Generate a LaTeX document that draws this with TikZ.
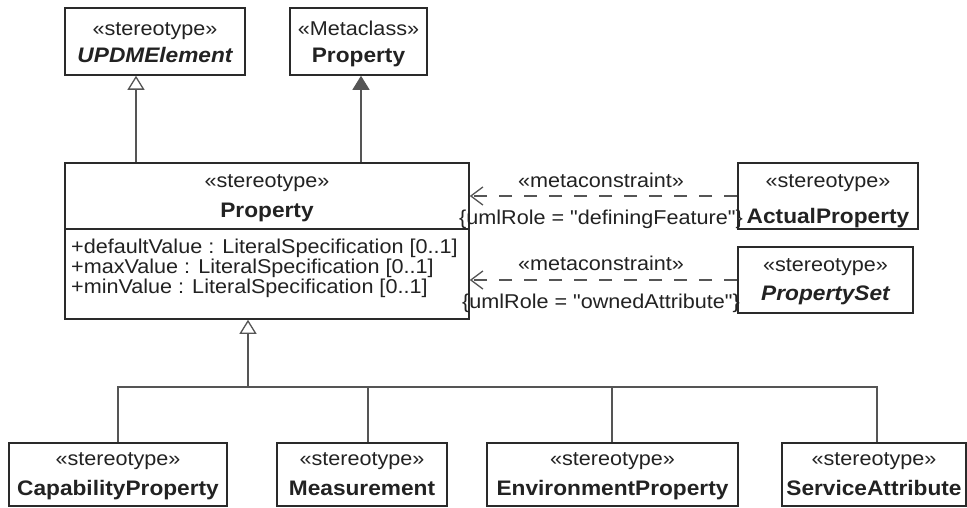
\documentclass[tikz,border=0pt]{standalone}
\usepackage{fontspec}
\newfontfamily\umlfont{Liberation Sans}[FakeStretch=1.08]
\usetikzlibrary{arrows.meta,calc}
\definecolor{edgecol}{HTML}{555555}
\definecolor{txtcol}{HTML}{222222}
\definecolor{boxcol}{HTML}{2A2A2A}
\begin{document}
\begin{tikzpicture}[x=1pt,y=-1pt,
  box/.style={draw=boxcol,line width=1.6pt,fill=white,inner sep=0pt},
  lbl/.style={inner sep=0pt,anchor=base,text=txtcol,font=\umlfont\fontsize{20}{24}\selectfont},
  namelbl/.style={lbl,font=\umlfont\bfseries\fontsize{21}{24}\selectfont},
  attr/.style={lbl,anchor=base west},
  conn/.style={draw=edgecol,line width=1.3pt},
  gen/.style={conn,-{Triangle[open,width=17pt,length=14pt,line width=1.3pt]}},
  ext/.style={conn,-{Triangle[width=17pt,length=14pt]},fill=edgecol},
  dep/.style={conn,dash pattern=on 13pt off 12pt,-{Straight Barb[length=12pt,width=18pt,line width=1.3pt]}}
]
\useasboundingbox (0,0) rectangle (967,508);
\fill[white] (0,0) rectangle (967,508);

% boxes
\node[box,minimum width=180pt,minimum height=67pt] (upd) at (155,41.5) {};
\node[box,minimum width=137pt,minimum height=67pt] (meta) at (358.5,41.5) {};
\node[box,minimum width=404pt,minimum height=156pt] (main) at (267,241) {};
\node[box,minimum width=180pt,minimum height=66pt] (ap) at (828,196) {};
\node[box,minimum width=175pt,minimum height=66pt] (ps) at (825.5,280) {};
\node[box,minimum width=218pt,minimum height=63pt] (cap) at (118,474.5) {};
\node[box,minimum width=170pt,minimum height=63pt] (meas) at (362,474.5) {};
\node[box,minimum width=251pt,minimum height=63pt] (env) at (612.5,474.5) {};
\node[box,minimum width=184pt,minimum height=63pt] (serv) at (874,474.5) {};

% divider of main
\coordinate (dv) at (0,229);
\draw[draw=boxcol,line width=1.6pt] (main.west |- dv) -- (main.east |- dv);

% texts
\node[lbl] (updS) at (155,36) {«stereotype»};
\node[namelbl] (updN) at (155,63) {\itshape UPDMElement};
\node[lbl] (metaS) at (358.5,36) {«Metaclass»};
\node[namelbl] (metaN) at (358.5,63) {Property};
\node[lbl] (mainS) at (267,187) {«stereotype»};
\node[namelbl] (mainN) at (267,218) {Property};
\node[attr] (a1) at (71,253) {+defaultValue : LiteralSpecification [0..1]};
\node[attr] (a2) at (71,273) {+maxValue : LiteralSpecification [0..1]};
\node[attr] (a3) at (71,293) {+minValue : LiteralSpecification [0..1]};
\node[lbl] (apS) at (828,188) {«stereotype»};
\node[namelbl] (apN) at (828,223) {ActualProperty};
\node[lbl] (psS) at (825.5,271) {«stereotype»};
\node[namelbl] (psN) at (825.5,300) {\itshape PropertySet};
\node[lbl] (capS) at (118,465) {«stereotype»};
\node[namelbl] (capN) at (118,495) {CapabilityProperty};
\node[lbl] (measS) at (362,465) {«stereotype»};
\node[namelbl] (measN) at (362,495) {Measurement};
\node[lbl] (envS) at (612.5,465) {«stereotype»};
\node[namelbl] (envN) at (612.5,495) {EnvironmentProperty};
\node[lbl] (servS) at (874,465) {«stereotype»};
\node[namelbl] (servN) at (874,495) {ServiceAttribute};

% top connectors
\coordinate (x1) at (136,0);
\coordinate (x2) at (361,0);
\draw[gen] (main.north -| x1) -- (upd.south -| x1);
\draw[ext] (main.north -| x2) -- (meta.south -| x2);

% metaconstraints
\draw[dep] (ap.west) -- (ap.west -| main.east);
\draw[dep] (ps.west) -- (ps.west -| main.east);
\node[lbl] (mc1) at (601,187) {«metaconstraint»};
\node[lbl] (r1) at (601,225) {\{umlRole = "definingFeature"\}};
\node[lbl] (mc2) at (601,270) {«metaconstraint»};
\node[lbl] (r2) at (601,308) {\{umlRole = "ownedAttribute"\}};

% bottom generalization tree
\coordinate (hy) at (0,387);
\coordinate (tx) at (248,0);
\coordinate (c1) at (118,0);
\coordinate (c2) at (368,0);
\coordinate (c3) at (612,0);
\coordinate (c4) at (877,0);
\draw[conn] (cap.north -| c1) -- (hy -| c1) -- (hy -| c4) -- (serv.north -| c4);
\draw[conn] (meas.north -| c2) -- (hy -| c2);
\draw[conn] (env.north -| c3) -- (hy -| c3);
\draw[gen] (hy -| tx) -- (main.south -| tx);
\end{tikzpicture}
\end{document}
